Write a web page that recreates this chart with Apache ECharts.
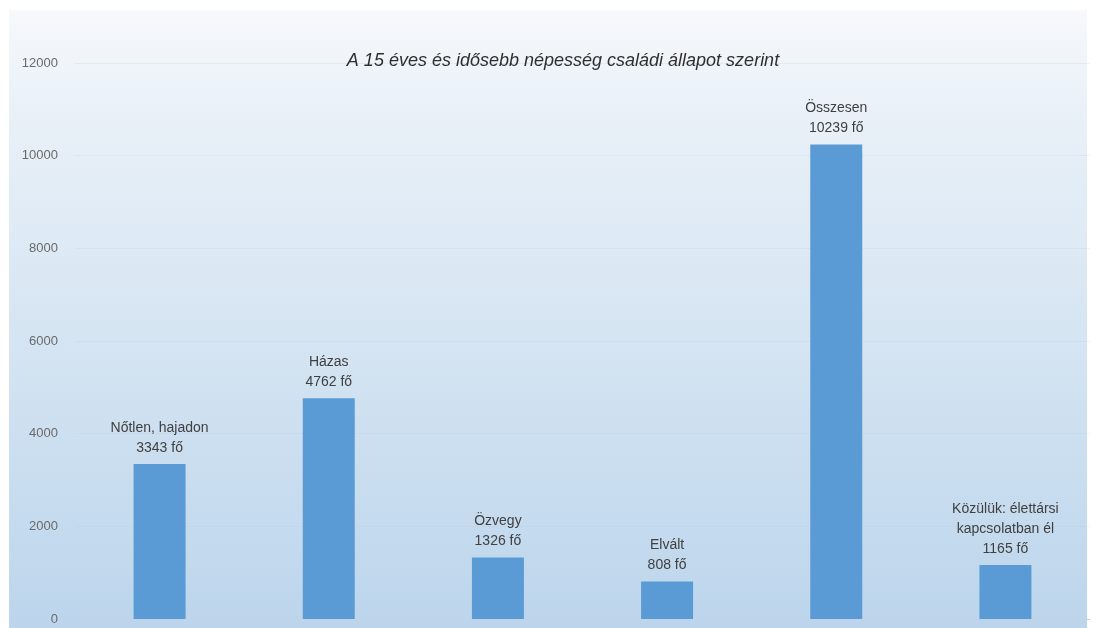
<!DOCTYPE html>
<html>
<head>
<meta charset="utf-8">
<script src="https://cdn.jsdelivr.net/npm/echarts@6/dist/echarts.min.js"></script>
<style>html,body{margin:0;padding:0;background:#fff}#c{width:1095px;height:628px}</style>
</head>
<body>
<div id="c"></div>
<script>
var categories = ['Nőtlen, hajadon', 'Házas', 'Özvegy', 'Elvált', 'Összesen', 'Közülük: élettársi\nkapcsolatban él'];
var values = [3343, 4762, 1326, 808, 10239, 1165];
var yTicks = [0, 2000, 4000, 6000, 8000, 10000, 12000];
var titleText = 'A 15 éves és idősebb népesség családi állapot szerint';

var chart = echarts.init(document.getElementById('c'));
chart.setOption({
  backgroundColor: '#ffffff',
  animation: false,
  graphic: [{
    type: 'rect', z: -10, silent: true,
    shape: { x: 9, y: 10, width: 1078, height: 618 },
    style: {
      fill: new echarts.graphic.LinearGradient(0, 0, 0, 1, [
        { offset: 0, color: '#f7f9fc' },
        { offset: 0.15, color: '#eaf1f8' },
        { offset: 0.55, color: '#d4e4f2' },
        { offset: 1, color: '#bcd5ec' }
      ])
    }
  }],
  title: {
    text: titleText,
    left: 558, top: 47, textAlign: 'center',
    textStyle: { fontFamily: 'Liberation Sans, Arial, sans-serif', fontSize: 18, fontStyle: 'italic', fontWeight: 'normal', color: '#2f2f2f' }
  },
  grid: { left: 75, right: 5, top: 63, bottom: 9, containLabel: false },
  xAxis: {
    type: 'category',
    data: categories,
    axisLine: { show: true, lineStyle: { color: '#c3d3e3' } },
    axisTick: { show: false },
    axisLabel: { show: false }
  },
  yAxis: {
    type: 'value',
    min: yTicks[0], max: yTicks[yTicks.length - 1], interval: 2000,
    axisLine: { show: false },
    axisTick: { show: false },
    axisLabel: {
      margin: 17, color: '#6a6a6a', fontSize: 13,
      fontFamily: 'Liberation Sans, Arial, sans-serif',
      formatter: function (v) { return String(v); }
    },
    splitLine: { show: true, lineStyle: { color: 'rgba(190,205,220,0.25)' } }
  },
  series: [{
    type: 'bar',
    data: values,
    barWidth: 52,
    itemStyle: { color: '#5b9bd5' },
    label: {
      show: true, position: 'top', distance: 6,
      color: '#404040', fontSize: 14, lineHeight: 20,
      fontFamily: 'Liberation Sans, Arial, sans-serif',
      formatter: function (p) { return p.name + '\n' + p.value + ' fő'; }
    }
  }]
});
</script>
</body>
</html>
